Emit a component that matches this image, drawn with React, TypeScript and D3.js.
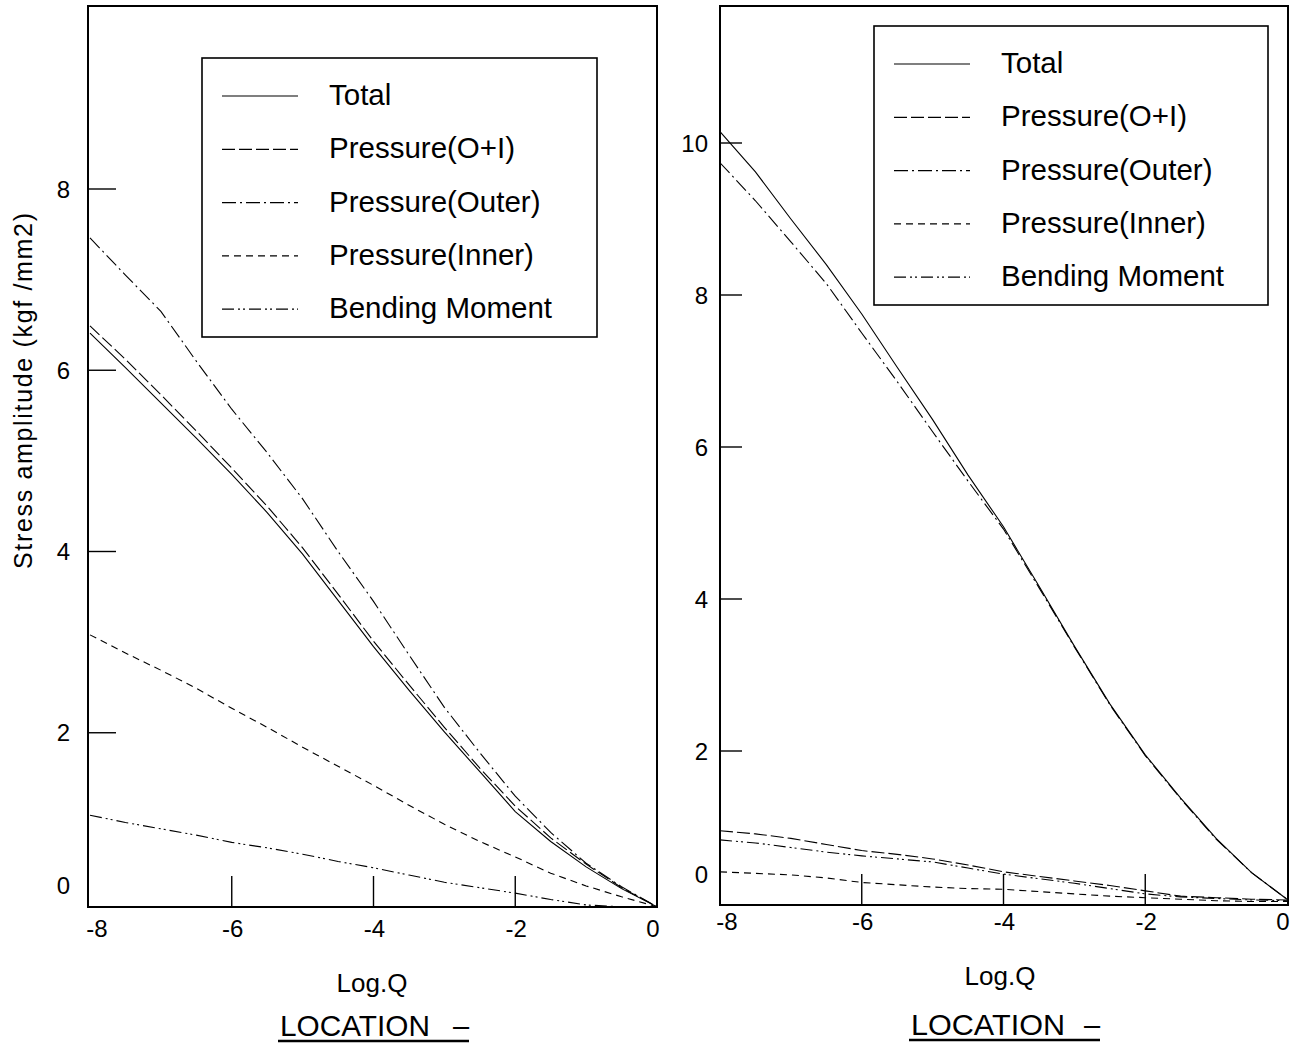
import React from 'react';
import * as d3 from 'd3';

// x positions (Log.Q)
const logQ = [-8, -7.5, -7, -6.5, -6, -5.5, -5, -4.5, -4, -3.5, -3, -2.5, -2, -1.5, -1, -0.5, 0];

// left panel (location 1)
const leftTotal = [6.41, 6.03, 5.64, 5.25, 4.85, 4.43, 3.97, 3.46, 2.95, 2.47, 2.01, 1.57, 1.13, 0.80, 0.52, 0.28, 0.08];
const leftPressureOI = [6.49, 6.12, 5.73, 5.33, 4.92, 4.50, 4.04, 3.53, 3.01, 2.53, 2.06, 1.61, 1.19, 0.84, 0.55, 0.29, 0.08];
const leftPressureOuter = [7.46, 7.05, 6.65, 6.10, 5.57, 5.09, 4.58, 4.00, 3.45, 2.86, 2.28, 1.78, 1.30, 0.90, 0.56, 0.30, 0.08];
const leftPressureInner = [3.08, 2.88, 2.69, 2.49, 2.27, 2.06, 1.84, 1.63, 1.42, 1.20, 0.99, 0.80, 0.63, 0.45, 0.31, 0.19, 0.08];
const leftBending = [1.09, 1.01, 0.94, 0.87, 0.79, 0.73, 0.66, 0.58, 0.51, 0.43, 0.35, 0.29, 0.23, 0.16, 0.10, 0.08, 0.08];

// right panel (location 2)
const rightTotal = [10.15, 9.62, 9.00, 8.40, 7.75, 7.05, 6.36, 5.63, 4.95, 4.17, 3.38, 2.62, 1.95, 1.38, 0.85, 0.40, 0.05];
const rightPressureOI = [0.95, 0.91, 0.85, 0.77, 0.69, 0.64, 0.58, 0.50, 0.41, 0.35, 0.29, 0.23, 0.16, 0.09, 0.07, 0.05, 0.04];
const rightPressureOuter = [9.74, 9.24, 8.70, 8.15, 7.50, 6.86, 6.20, 5.55, 4.92, 4.15, 3.37, 2.61, 1.94, 1.37, 0.84, 0.40, 0.05];
const rightPressureInner = [0.41, 0.39, 0.37, 0.33, 0.27, 0.24, 0.21, 0.19, 0.18, 0.15, 0.12, 0.09, 0.07, 0.05, 0.03, 0.02, 0.02];
const rightBending = [0.83, 0.79, 0.73, 0.67, 0.62, 0.58, 0.54, 0.46, 0.38, 0.32, 0.26, 0.19, 0.12, 0.08, 0.06, 0.04, 0.03];

const seriesNames = ['Total', 'Pressure(O+I)', 'Pressure(Outer)', 'Pressure(Inner)', 'Bending Moment'];
const dashes = ['none', '13 4', '14 4 2 4', '7 5', '12 4 2 3 2 4'];

const xTickValues = [-8, -6, -4, -2, 0];
const xInnerTicks = [-6, -4, -2];
const leftYTicks = [0, 2, 4, 6, 8];
const rightYTicks = [0, 2, 4, 6, 8, 10];

const FONT = '"Liberation Sans", Arial, Helvetica, sans-serif';

type PanelProps = {
  frame: { x0: number; x1: number; y0: number; y1: number };
  xRange: [number, number];
  yDomainTop: number;
  yRange: [number, number];
  yTicks: number[];
  yTickLen: number;
  yLabelRight: number;
  xLabelBaseline: number;
  series: number[][];
  legend: { x: number; y: number; w: number; h: number; textDx: number };
};

function Panel({ frame, xRange, yDomainTop, yRange, yTicks, yTickLen, yLabelRight, xLabelBaseline, series, legend }: PanelProps) {
  const x = d3.scaleLinear().domain([-8, 0]).range(xRange);
  const y = d3.scaleLinear().domain([0, yDomainTop]).range(yRange);
  const line = d3.line<number>().x((d, i) => x(logQ[i])).y(d => y(d));
  const clipId = `clip-${frame.x0}`;

  return (
    <g>
      <defs>
        <clipPath id={clipId}>
          <rect x={frame.x0} y={frame.y0} width={frame.x1 - frame.x0} height={frame.y1 - frame.y0} />
        </clipPath>
      </defs>
      <g clipPath={`url(#${clipId})`}>
        {series.map((s, i) => (
          <path key={i} d={line(s) || ''} fill="none" stroke="#000" strokeWidth={1.1}
            strokeDasharray={dashes[i]} />
        ))}
      </g>
      {/* y ticks */}
      {yTicks.filter(t => t > 0).map(t => (
        <line key={t} x1={frame.x0} x2={frame.x0 + yTickLen} y1={y(t)} y2={y(t)} stroke="#000" strokeWidth={1.4} />
      ))}
      {yTicks.map(t => (
        <text key={t} x={yLabelRight} y={t === 0 ? y(t) - 29 : y(t)} dy="0.36em" textAnchor="end"
          fontSize={24} fontFamily={FONT}>{t}</text>
      ))}
      {/* x ticks */}
      {xInnerTicks.map(t => (
        <line key={t} x1={x(t)} x2={x(t)} y1={frame.y1} y2={frame.y1 - 31} stroke="#000" strokeWidth={1.4} />
      ))}
      {xTickValues.map(t => (
        <text key={t} x={x(t) + (t === -8 ? 7 : t === 0 ? -4 : 1)} y={xLabelBaseline} textAnchor="middle"
          fontSize={24} fontFamily={FONT}>{t}</text>
      ))}
      <rect x={frame.x0} y={frame.y0} width={frame.x1 - frame.x0} height={frame.y1 - frame.y0}
        fill="none" stroke="#000" strokeWidth={2} />
      {/* legend */}
      <rect x={legend.x} y={legend.y} width={legend.w} height={legend.h} fill="#fff" stroke="#000" strokeWidth={1.6} />
      {seriesNames.map((name, i) => {
        const base = legend.y + 47 + 53.3 * i;
        return (
          <g key={name}>
            <line x1={legend.x + 20} x2={legend.x + 96} y1={base - 9} y2={base - 9} stroke="#000" strokeWidth={1.2}
              strokeDasharray={dashes[i]} />
            <text x={legend.x + legend.textDx} y={base} fontSize={29.5} fontFamily={FONT}>{name}</text>
          </g>
        );
      })}
    </g>
  );
}

export default function App() {
  return (
    <svg width={1294} height={1047} style={{ position: 'absolute', left: 0, top: 0, background: '#fff' }}>
      <rect width={1294} height={1047} fill="#fff" />
      <Panel
        frame={{ x0: 88, x1: 657, y0: 6, y1: 907 }}
        xRange={[90, 657]}
        yDomainTop={8}
        yRange={[914, 189]}
        yTicks={leftYTicks}
        yTickLen={28}
        yLabelRight={70}
        xLabelBaseline={937}
        series={[leftTotal, leftPressureOI, leftPressureOuter, leftPressureInner, leftBending]}
        legend={{ x: 202, y: 58, w: 395, h: 279, textDx: 127 }}
      />
      <Panel
        frame={{ x0: 720, x1: 1288, y0: 6, y1: 905 }}
        xRange={[720, 1287]}
        yDomainTop={10}
        yRange={[903, 143]}
        yTicks={rightYTicks}
        yTickLen={22}
        yLabelRight={708}
        xLabelBaseline={930}
        series={[rightTotal, rightPressureOI, rightPressureOuter, rightPressureInner, rightBending]}
        legend={{ x: 874, y: 26, w: 394, h: 279, textDx: 127 }}
      />
      <text transform="translate(32,391) rotate(-90)" textAnchor="middle" fontSize={25} fontFamily={FONT}
        textLength={356} lengthAdjust="spacing">Stress amplitude (kgf /mm2)</text>
      <text x={372} y={992} textAnchor="middle" fontSize={26} fontFamily={FONT}>Log.Q</text>
      <text x={1000} y={985} textAnchor="middle" fontSize={26} fontFamily={FONT}>Log.Q</text>
      <text x={280} y={1036} fontSize={29} fontFamily={FONT} textLength={150} lengthAdjust="spacingAndGlyphs">LOCATION</text>
      <text x={453} y={1036} fontSize={29} fontFamily={FONT}>–</text>
      <line x1={278} x2={469} y1={1041} y2={1041} stroke="#000" strokeWidth={2.5} />
      <text x={911} y={1035} fontSize={29} fontFamily={FONT} textLength={154} lengthAdjust="spacingAndGlyphs">LOCATION</text>
      <text x={1084} y={1035} fontSize={29} fontFamily={FONT}>–</text>
      <line x1={909} x2={1100} y1={1040} y2={1040} stroke="#000" strokeWidth={2.5} />
    </svg>
  );
}
